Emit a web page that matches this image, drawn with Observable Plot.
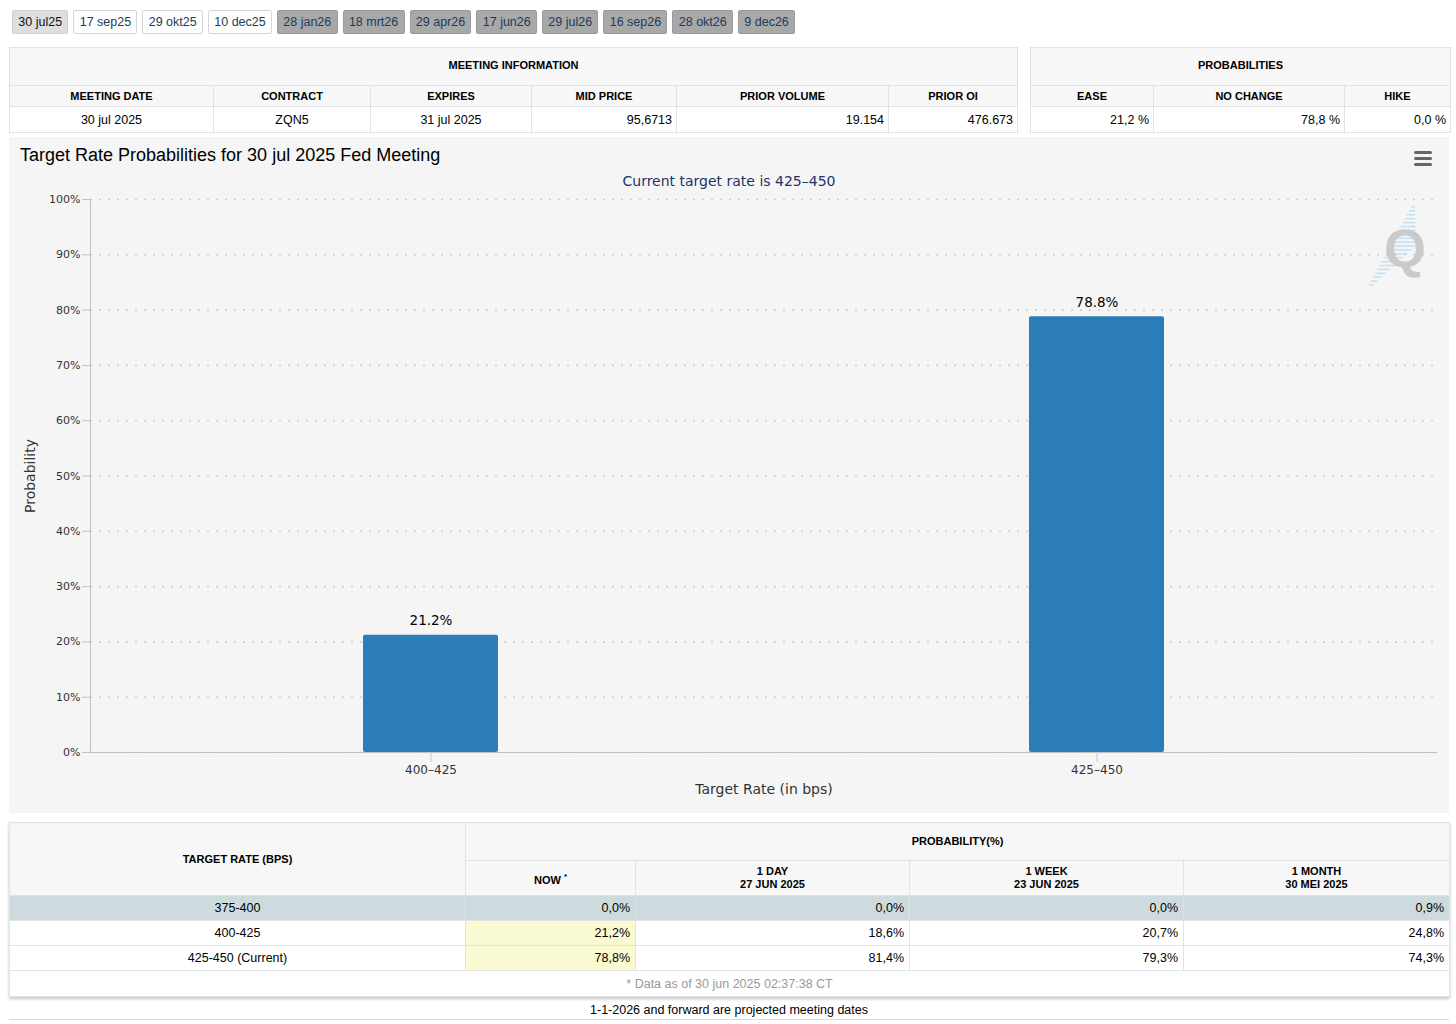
<!DOCTYPE html>
<html>
<head>
<meta charset="utf-8">
<script src="https://cdn.jsdelivr.net/npm/d3@7"></script>
<script src="https://cdn.jsdelivr.net/npm/@observablehq/plot@0.6"></script>
<style>
  html, body { margin: 0; padding: 0; background: #fff; }
  body { width: 1456px; height: 1024px; position: relative; overflow: hidden;
         font-family: "Liberation Sans", Arial, Helvetica, sans-serif; color: #000; }
  #tabs { position: absolute; left: 12px; top: 10px; display: flex; }
  .tab { box-sizing: border-box; height: 24px; line-height: 22px; padding: 0 5.3px; margin-right: 5px;
         font-size: 12.5px; border: 1px solid #d6d6d6; border-radius: 2px; color: #1d3b5c; background: #fff; white-space: nowrap; }
  .tab.active { background: #dedede; border-color: #d0d0d0; color: #111; }
  .tab.future { background: #a8a8a8; border-color: #9a9a9a; color: #1d3b5c; }
  table.info { position: absolute; border-collapse: collapse; table-layout: fixed; font-size: 12.5px; }
  table.info td, table.info th { border: 1px solid #e2e2e2; padding: 0 4px; box-sizing: border-box; overflow: hidden; white-space: nowrap; }
  table.info th { font-size: 11px; font-weight: bold; background: #f7f7f7; text-align: center; }
  table.info tr.top th { padding-bottom: 3px; }
  table.info td { background: #fff; }
  .r { text-align: right; }
  .c { text-align: center; }
  #chartBox { position: absolute; left: 9px; top: 137px; width: 1440px; height: 676px; background: #f5f5f5; }
  #chartTitle { position: absolute; left: 11px; top: 8px; font-size: 18px; color: #000; font-family: "Liberation Sans", Arial, sans-serif; }
  #chartSub { position: absolute; left: 0; width: 1440px; top: 36px; text-align: center; font-size: 14px;
              color: #1f3366; font-family: "DejaVu Sans", sans-serif; }
  #plotHolder { position: absolute; left: 0; top: 50px; }
  #deco { position: absolute; left: 0; top: 0; pointer-events: none; }
  #bottomTable { position: absolute; left: 9px; top: 822px; width: 1440px; border-collapse: collapse; table-layout: fixed;
                 font-size: 12.5px; box-shadow: 0 2px 3px rgba(0,0,0,0.22); }
  #bottomTable td, #bottomTable th { border: 1px solid #e2e2e2; padding: 0 5px; box-sizing: border-box; white-space: nowrap; }
  #bottomTable th { font-size: 11px; font-weight: bold; background: #f7f7f7; text-align: center; line-height: 13px; }
  #bottomTable td { background: #fff; height: 25px; }
  #bottomTable tr.hl td { background: #cddbde; }
  #bottomTable td.now { background: #fafad2; }
  #bottomTable tr.hl td.now { background: #cddbde; }
  #bottomTable td.note { color: #999; text-align: center; height: 26px; }
  sup { font-size: 8px; }
  #footer { position: absolute; left: 9px; width: 1440px; top: 1003px; text-align: center; font-size: 12.5px; }
  #footLine { position: absolute; left: 9px; width: 1440px; top: 1019px; height: 1px; background: #dcdcdc; }
</style>
</head>
<body>
<div id="tabs"></div>
<table class="info" id="meetTable" style="left:9px; top:47px; width:1008px;"></table>
<table class="info" id="probTable" style="left:1030px; top:47px; width:420px;"></table>
<div id="chartBox">
  <div id="chartTitle"></div>
  <div id="chartSub"></div>
  <div id="plotHolder"></div>
  <svg id="deco" width="1440" height="676"></svg>
</div>
<table id="bottomTable"></table>
<div id="footer"></div>
<div id="footLine"></div>

<script>
// ---------------- DATA ----------------
const tabLabels = ["30 jul25", "17 sep25", "29 okt25", "10 dec25", "28 jan26", "18 mrt26", "29 apr26", "17 jun26", "29 jul26", "16 sep26", "28 okt26", "9 dec26"];
const tabKinds  = ["active", "", "", "", "future", "future", "future", "future", "future", "future", "future", "future"];

const meetingHeaders = ["MEETING DATE", "CONTRACT", "EXPIRES", "MID PRICE", "PRIOR VOLUME", "PRIOR OI"];
const meetingValues  = ["30 jul 2025", "ZQN5", "31 jul 2025", "95,6713", "19.154", "476.673"];
const meetingAlign   = ["c", "c", "c", "r", "r", "r"];
const meetingWidths  = [204, 157, 161, 145, 212, 129];

const probHeaders = ["EASE", "NO CHANGE", "HIKE"];
const probValues  = ["21,2 %", "78,8 %", "0,0 %"];
const probWidths  = [123, 191, 106];

const chartTitle = "Target Rate Probabilities for 30 jul 2025 Fed Meeting";
const chartSubtitle = "Current target rate is 425–450";
const categories = ["400–425", "425–450"];
const probabilities = [21.2, 78.8];
const yTicks = [0, 10, 20, 30, 40, 50, 60, 70, 80, 90, 100];
const xTitle = "Target Rate (in bps)";
const yTitle = "Probability";

const tableRates = ["375-400", "400-425", "425-450 (Current)"];
const tableNow   = ["0,0%", "21,2%", "78,8%"];
const tableDay   = ["0,0%", "18,6%", "81,4%"];
const tableWeek  = ["0,0%", "20,7%", "79,3%"];
const tableMonth = ["0,9%", "24,8%", "74,3%"];
const periodHeads = [["1 DAY", "27 JUN 2025"], ["1 WEEK", "23 JUN 2025"], ["1 MONTH", "30 MEI 2025"]];
const bottomWidths = [456, 170, 274, 274, 266];
const dataNote = "* Data as of 30 jun 2025 02:37:38 CT";
const footerText = "1-1-2026 and forward are projected meeting dates";

// ---------------- TABS ----------------
const tabs = d3.select("#tabs");
tabLabels.forEach((t, i) => tabs.append("div").attr("class", "tab " + tabKinds[i]).text(t));

// ---------------- TOP TABLES ----------------
function buildInfo(sel, title, heads, vals, aligns, widths) {
  const t = d3.select(sel);
  const cg = t.append("colgroup");
  widths.forEach(w => cg.append("col").style("width", w + "px"));
  t.append("tr").attr("class", "top").style("height", "38px").append("th").attr("colspan", heads.length).text(title);
  const hr = t.append("tr").style("height", "21px");
  heads.forEach(h => hr.append("th").text(h));
  const dr = t.append("tr").style("height", "26px");
  vals.forEach((v, i) => dr.append("td").attr("class", aligns[i]).text(v));
}
buildInfo("#meetTable", "MEETING INFORMATION", meetingHeaders, meetingValues, meetingAlign, meetingWidths);
buildInfo("#probTable", "PROBABILITIES", probHeaders, probValues, ["r", "r", "r"], probWidths);

// ---------------- CHART ----------------
d3.select("#chartTitle").text(chartTitle);
d3.select("#chartSub").text(chartSubtitle);

const data = categories.map((c, i) => ({rate: c, prob: probabilities[i]}));

const leftAxisLine = (index, scales, values, dims) => {
  const l = document.createElementNS("http://www.w3.org/2000/svg", "line");
  l.setAttribute("x1", dims.marginLeft + 0.5);
  l.setAttribute("x2", dims.marginLeft + 0.5);
  l.setAttribute("y1", dims.marginTop);
  l.setAttribute("y2", dims.height - dims.marginBottom);
  l.setAttribute("stroke", "#c0c0c0");
  return l;
};

const chart = Plot.plot({
  width: 1440,
  height: 626,
  marginLeft: 81,
  marginRight: 12,
  marginTop: 12,
  marginBottom: 61,
  style: {background: "transparent", fontFamily: "'DejaVu Sans', sans-serif", fontSize: "12px", color: "#333"},
  x: {domain: categories, paddingInner: 0.7976, paddingOuter: 0.4086},
  y: {domain: [0, 100]},
  marks: [
    Plot.ruleY(yTicks, {stroke: "#cfcfcf", strokeDasharray: "2,7", strokeWidth: 1.6}),
    Plot.barY(data, {x: "rate", y: "prob", fill: "#2a7db6", rx: 2}),
    Plot.text(data, {x: "rate", y: "prob", text: d => d.prob.toFixed(1) + "%", dy: -10, lineAnchor: "bottom", fontSize: 13.5, fill: "#000"}),
    Plot.ruleY([0], {stroke: "#c0c0c0"}),
    leftAxisLine,
    Plot.axisY({ticks: yTicks, tickFormat: d => d + "%", tickSize: 8, tickPadding: 2, stroke: "#c0c0c0", fill: "#333", fontSize: 11,
                label: yTitle, labelAnchor: "center", labelArrow: "none", labelOffset: 65}),
    Plot.axisX({tickSize: 10, tickPadding: 3, stroke: "#c8c8c8", fill: "#333", fontSize: 12,
                label: xTitle, labelAnchor: "center", labelArrow: "none", labelOffset: 41})
  ]
});
document.getElementById("plotHolder").appendChild(chart);
d3.select(chart).selectAll('g[aria-label="y-axis label"] text, g[aria-label="x-axis label"] text')
  .style("font-size", "14px").attr("fill", "#333");

// decorations: menu icon and watermark logo
const deco = d3.select("#deco");
[0, 6, 12].forEach(o => deco.append("rect").attr("x", 1405).attr("y", 14 + o).attr("width", 18).attr("height", 3)
  .attr("rx", 1.5).attr("fill", "#666"));
const logo = deco.append("g").attr("opacity", 0.9);
for (let i = 0; i < 21; i++) {
  const y = 70 + i * 3.9;
  const xl = 1402 - i * 2.1;
  const len = 4 + Math.min(i, 20 - i) * 2.2;
  logo.append("line").attr("x1", xl).attr("x2", xl + len).attr("y1", y).attr("y2", y)
    .attr("stroke", "#bfe0f4").attr("stroke-width", 1.6);
}
logo.append("text").attr("x", 1375).attr("y", 130).attr("font-family", "Liberation Sans, Arial, sans-serif")
  .attr("font-weight", "bold").attr("font-size", 54).attr("fill", "#c6c6c6").text("Q");

// ---------------- BOTTOM TABLE ----------------
const bt = d3.select("#bottomTable");
const bcg = bt.append("colgroup");
bottomWidths.forEach(w => bcg.append("col").style("width", w + "px"));
const h1 = bt.append("tr").style("height", "38px");
h1.append("th").attr("rowspan", 2).text("TARGET RATE (BPS)");
h1.append("th").attr("colspan", 4).text("PROBABILITY(%)");
const h2 = bt.append("tr").style("height", "35px");
h2.append("th").html("NOW <sup>*</sup>");
periodHeads.forEach(p => h2.append("th").html(p[0] + "<br>" + p[1]));
tableRates.forEach((r, i) => {
  const tr = bt.append("tr").attr("class", i === 0 ? "hl" : "");
  tr.append("td").attr("class", "c").text(r);
  tr.append("td").attr("class", "r now").text(tableNow[i]);
  tr.append("td").attr("class", "r").text(tableDay[i]);
  tr.append("td").attr("class", "r").text(tableWeek[i]);
  tr.append("td").attr("class", "r").text(tableMonth[i]);
});
bt.append("tr").append("td").attr("colspan", 5).attr("class", "note").text(dataNote);

d3.select("#footer").text(footerText);
</script>
</body>
</html>
